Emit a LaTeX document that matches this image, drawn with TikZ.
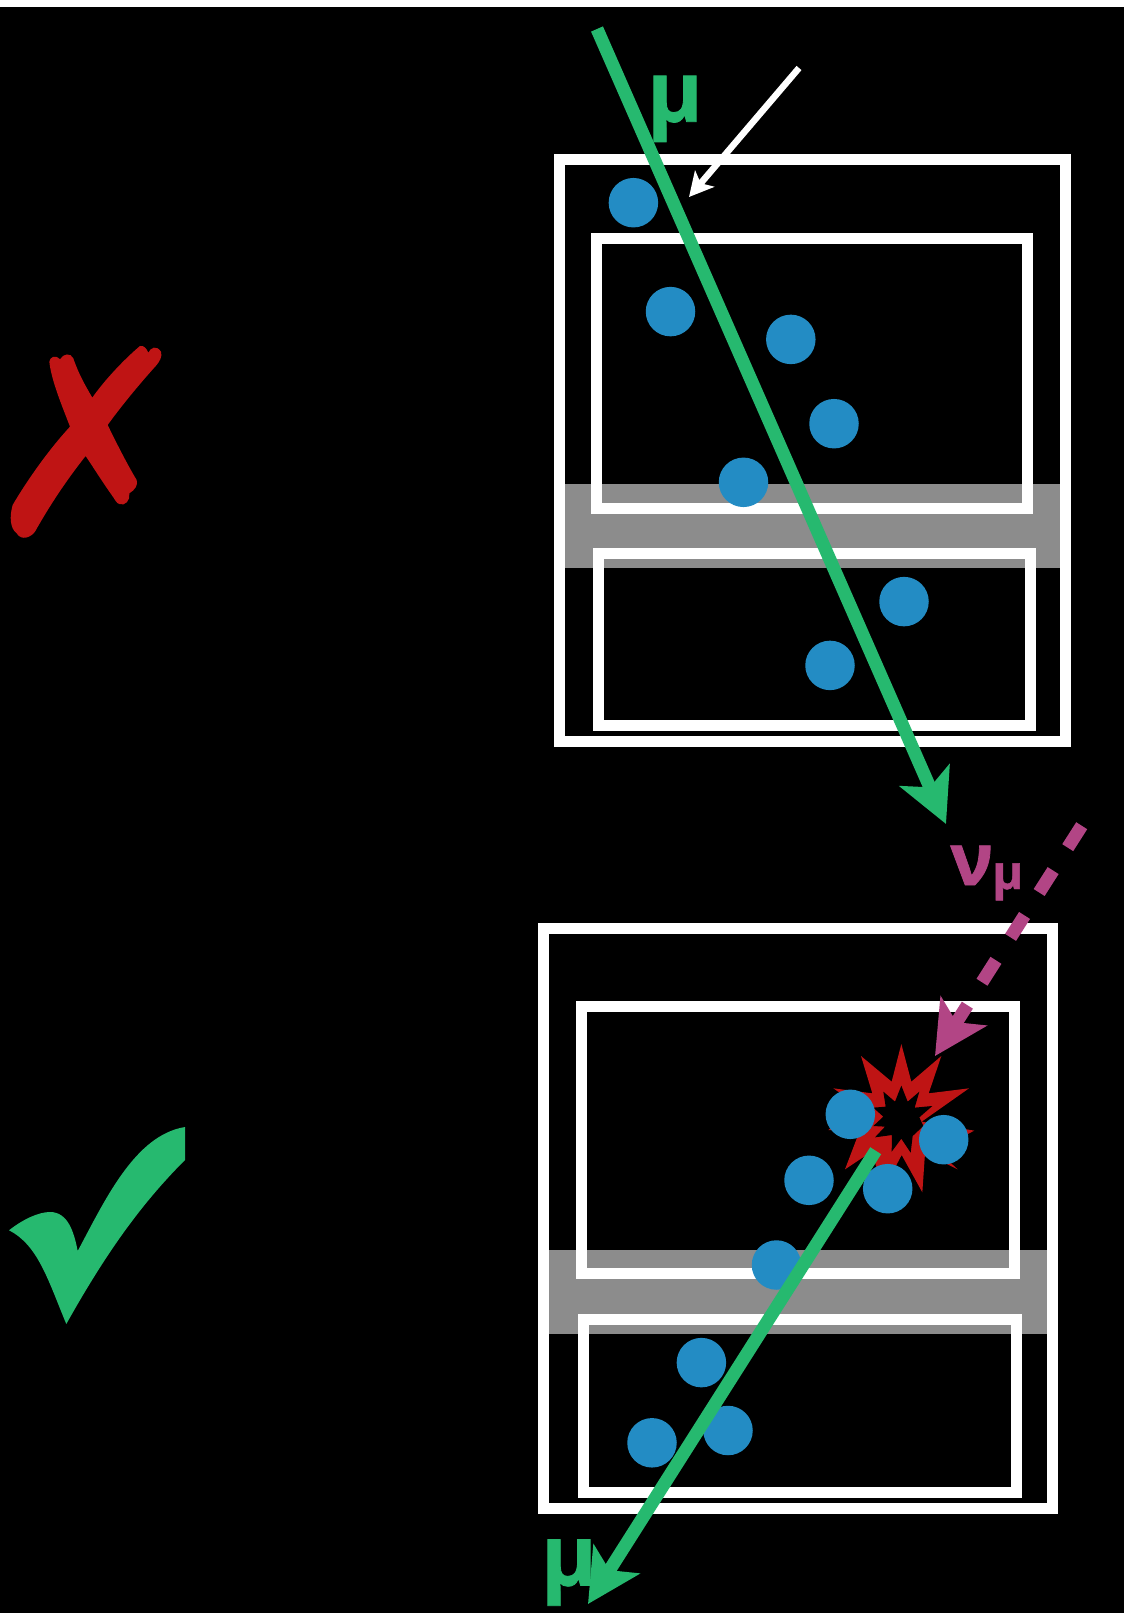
\documentclass[tikz,border=0pt]{standalone}
\usepackage{fontspec}
\setmainfont{Open Sans}[BoldFeatures = {FakeBold = 1}]
\usetikzlibrary{arrows.meta}
\definecolor{mugreen}{HTML}{26B96F}
\definecolor{nupurple}{HTML}{B24585}
\definecolor{hitblue}{HTML}{238CC4}
\definecolor{markred}{HTML}{BF1414}
\definecolor{bandgrey}{HTML}{8C8C8C}
\begin{document}
\begin{tikzpicture}[x = 1pt, y = -1pt,
    module/.style = {draw = white, line width = 11pt},
    band/.style = {fill = bandgrey},
    hit/.style = {circle, fill = hitblue, inner sep = 0pt, minimum size = 49.5pt},
    track/.style = {line width = 13pt, mugreen,
                    -{Stealth[length = 53pt, width = 54pt, inset = 13pt]}},
    label/.style = {inner sep = 0pt, anchor = base west, font = \bfseries\fontsize{84}{84}\selectfont}]
      \useasboundingbox (0,0) rectangle (1124,1613);
      \fill [white] (0,0) rectangle (1124,7);
      \fill [black] (0,7) rectangle (1124,1613);
      \fill [band] (565,484) rectangle (1060,568);
      \fill [band] (549,1250) rectangle (1047,1334);
      \draw [module] (559.5,160) rectangle (1065.5,741.5);
      \draw [module] (596,238.5) rectangle (1027.5,508);
      \draw [module] (598.5,553) rectangle (1030,725);
      \draw [module] (543.7,928) rectangle (1052,1508.5);
      \draw [module] (581,1006) rectangle (1014.5,1273);
      \draw [module] (583.7,1319.5) rectangle (1016,1492.5);
      \begin{scope}[shift = {(840,1040)}, x = .3333pt, y = -.3333pt]
        \fill [markred] (184,12) -- (214,125) -- (304,48) -- (266,160) -- (387,145)
          -- (245,245) -- (403,272) -- (290,330) -- (353,388) -- (255,340)
          -- (247,457) -- (185,345) -- (130,450) -- (95,335) -- (15,388)
          -- (60,270) -- (-35,270) -- (60,200) -- (-20,145) -- (97,160)
          -- (63,48) -- (155,125) -- cycle;
        \fill [black] (184,137) -- (203,185) -- (238,155) -- (224,203) -- (277,198)
          -- (238,232) -- (250,258) -- (218,288) -- (212,338) -- (184,296)
          -- (155,335) -- (156,285) -- (105,292) -- (135,260) -- (100,258)
          -- (130,230) -- (100,203) -- (137,200) -- (130,155) -- (165,185) -- cycle;
      \end{scope}
      \foreach \name/\x/\y in {a/633.4/202.7, b/670.5/311.6, c/790.8/339.4, d/834/423.7,
                               e/743.5/482.3, f/904/601.6, g/830/665.4,
                               h/850.3/1114.3, i/943.7/1139.7, j/809/1180.3, k/887.7/1188.7,
                               l/776.5/1265, m/701.4/1362.6, n/728/1430.5, o/652/1442.8}
        \node [hit] (hit\name) at (\x,\y) {};
      \coordinate (muintop) at (597,29);
      \coordinate (muouttop) at (946,824);
      \coordinate (muinbot) at (875.7,1150.7);
      \coordinate (muoutbot) at (588,1604);
      \coordinate (nuin) at (1081.7,825.7);
      \coordinate (nuout) at (935,1056);
      \coordinate (pointerin) at (799,68);
      \coordinate (pointerout) at (689,197);
      \node [label, mugreen] (mutop) at (647,121.7) {μ};
      \node [label, mugreen] (mubot) at (541,1585.5) {μ};
      \node [label, nupurple, font = \bfseries\fontsize{72}{72}\selectfont] (nu) at (950,885) {ν};
      \node [label, nupurple, font = \bfseries\fontsize{47}{47}\selectfont] (nusub) at (992,889) {μ};
      \draw [track] (muintop) -- (muouttop);
      \draw [track] (muinbot) -- (muoutbot);
      \draw [line width = 13pt, nupurple, dash pattern = on 26pt off 27.2pt,
             -{Stealth[length = 53pt, width = 54pt, inset = 13pt]}] (nuin) -- (nuout);
      \draw [line width = 6.5pt, white,
             -{Stealth[length = 24pt, width = 25pt, inset = 6pt]}] (pointerin) -- (pointerout);
      \begin{scope}[shift = {(0,320)}, x = .3333pt, y = -.3333pt]
        \fill [markred] (148,125) .. controls (150,112) and (165,102) .. (180,118)
          .. controls (190,100) and (212,98) .. (220,115)
          .. controls (235,160) and (255,195) .. (277,233)
          .. controls (310,185) and (370,120) .. (420,78)
          .. controls (430,75) and (440,85) .. (445,98)
          .. controls (452,82) and (470,75) .. (483,95)
          .. controls (488,110) and (478,125) .. (470,135)
          .. controls (425,185) and (370,250) .. (323,315)
          .. controls (350,370) and (380,430) .. (410,480)
          .. controls (415,495) and (405,510) .. (388,520)
          .. controls (392,540) and (375,560) .. (358,552)
          .. controls (350,550) and (345,540) .. (340,532)
          .. controls (310,490) and (285,450) .. (257,408)
          .. controls (200,480) and (150,555) .. (105,635)
          .. controls (95,650) and (65,665) .. (50,640)
          .. controls (30,625) and (28,590) .. (38,555)
          .. controls (85,475) and (150,385) .. (210,320)
          .. controls (185,255) and (160,195) .. (150,140) -- cycle;
      \end{scope}
      \fill [mugreen] (9,1230.3) .. controls (22,1220) and (38,1212) .. (50,1212)
        .. controls (68,1212) and (74,1232) .. (77.7,1251)
        .. controls (105,1200) and (135,1135) .. (185,1127)
        -- (185,1160)
        .. controls (140,1205) and (105,1255) .. (66.3,1324)
        .. controls (48,1280) and (38,1245) .. (9,1230.3);
    \end{tikzpicture}
\end{document}
